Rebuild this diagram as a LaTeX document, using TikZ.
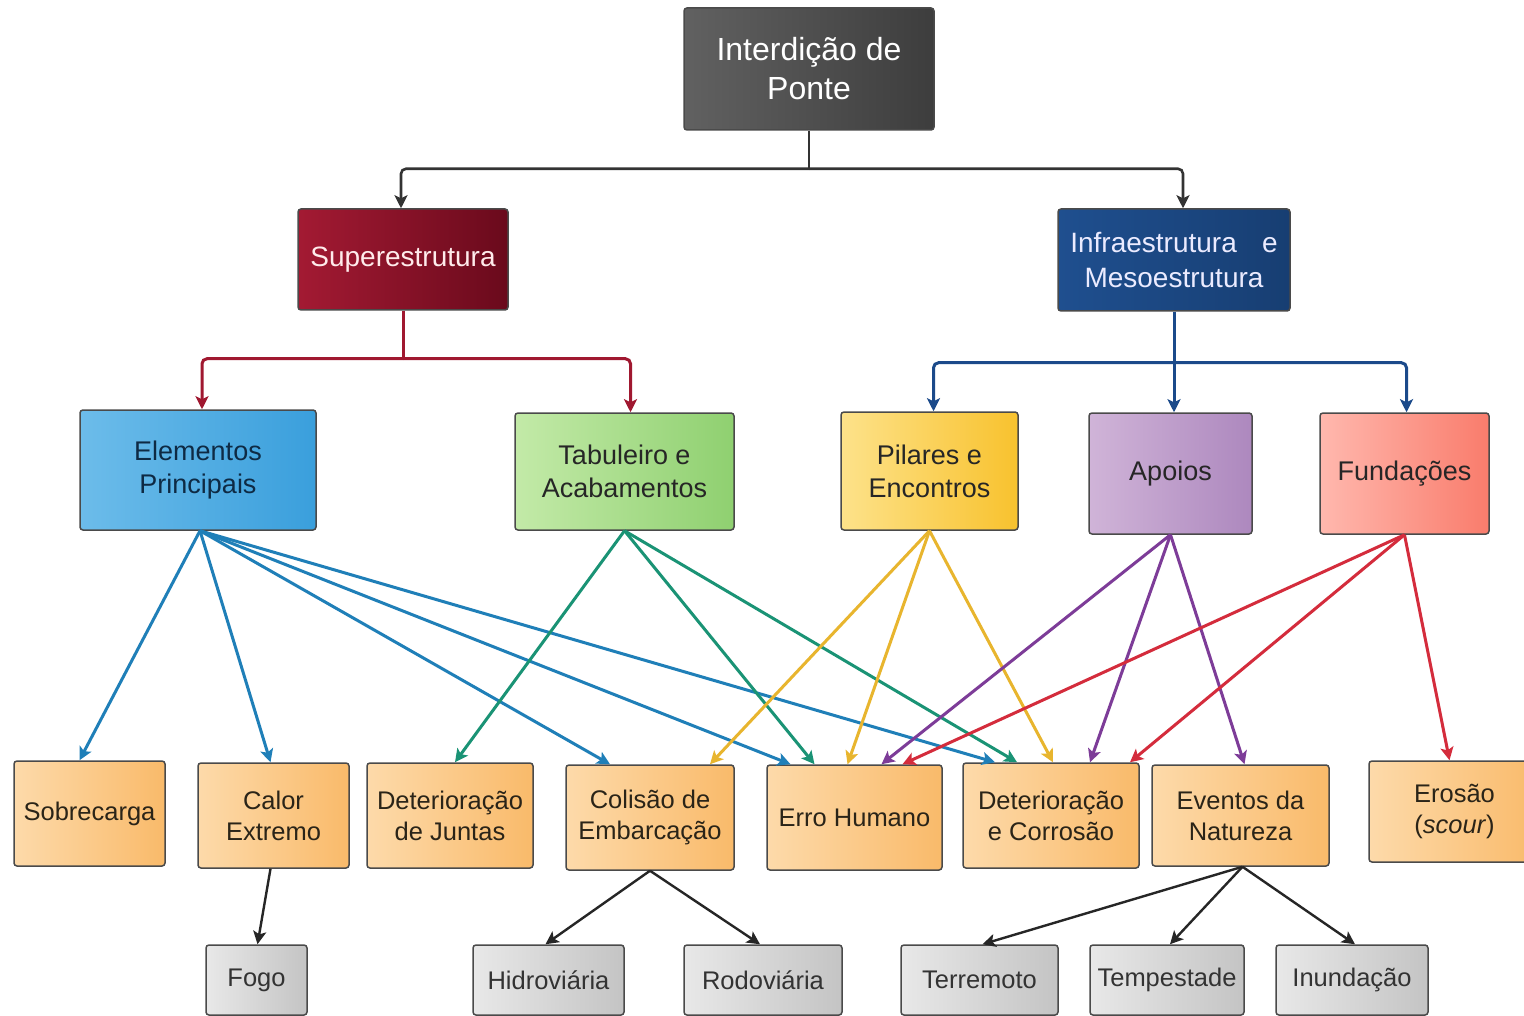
\documentclass[tikz,border=0pt]{standalone}
\usepackage{fontspec}
\setmainfont{Liberation Sans}
\usetikzlibrary{arrows.meta}

\definecolor{edgegray}{HTML}{4A4A4A}
\definecolor{cCrimson}{HTML}{A01830}
\definecolor{cNavy}{HTML}{1B4A8A}
\definecolor{cBlue}{HTML}{1F7FB8}
\definecolor{cGreen}{HTML}{1A9375}
\definecolor{cYellow}{HTML}{E8B52E}
\definecolor{cPurple}{HTML}{7D3C98}
\definecolor{cRed}{HTML}{D42C3C}
\definecolor{txtdark}{HTML}{2A2418}

% box fills (light side / dark side)
\definecolor{superL}{HTML}{A31A33}
\definecolor{superR}{HTML}{6A0A1C}
\definecolor{infraL}{HTML}{1F4F8F}
\definecolor{infraR}{HTML}{173E72}
\definecolor{elemL}{HTML}{6CBCEA}
\definecolor{elemR}{HTML}{3A9FDC}
\definecolor{elemT}{HTML}{0E2A44}
\definecolor{tabL}{HTML}{C3EAA8}
\definecolor{tabR}{HTML}{8FD070}
\definecolor{pilL}{HTML}{FDE28A}
\definecolor{pilR}{HTML}{F8C22E}
\definecolor{apoL}{HTML}{D0B4D8}
\definecolor{apoR}{HTML}{AD88BE}
\definecolor{funL}{HTML}{FFB8AE}
\definecolor{funR}{HTML}{F97C6C}
\definecolor{leafL}{HTML}{FDDAAA}
\definecolor{leafR}{HTML}{F9BA6A}
\definecolor{subL}{HTML}{E8E8E8}
\definecolor{subR}{HTML}{C4C4C4}

\tikzset{
  box/.style={draw=edgegray, line width=1.5pt, rounded corners=3pt,
              align=center, inner sep=0pt},
  rootbox/.style={box, left color=black!62, right color=black!76, text=white,
              font=\fontsize{32}{39}\selectfont},
  superbox/.style={box, left color=superL, right color=superR, text=white!92!red,
              font=\fontsize{28}{35}\selectfont},
  infrabox/.style={box, left color=infraL, right color=infraR, text=white!92!blue,
              font=\fontsize{28}{35}\selectfont},
  midbox/.style={box, text=black!85, font=\fontsize{27}{33}\selectfont},
  leafbox/.style={box, left color=leafL, right color=leafR, text=txtdark,
              font=\fontsize{25.5}{31}\selectfont, minimum height=105pt},
  subbox/.style={box, left color=subL, right color=subR, text=black!80,
              font=\fontsize{25.5}{31}\selectfont, minimum height=70pt},
  arr/.style={line width=3pt, -{Stealth[length=13pt,width=13pt,inset=3pt]}},
  elbow/.style={arr, rounded corners=5pt},
  stem/.style={line width=3pt},
  thin arr/.style={arr, black!85, line width=2.4pt},
}

\begin{document}
\begin{tikzpicture}[x=1pt,y=-1pt]
\path[use as bounding box, clip] (0,0) rectangle (1524,1016);
\fill[white] (0,0) rectangle (1524,1016);

% ---- top levels
\node[rootbox, minimum width=250pt, minimum height=122pt] (root) at (809,69) {Interdição de\\Ponte};
\node[superbox, minimum width=210pt, minimum height=101pt] (super) at (403,259.5) {Superestrutura};
\node[infrabox, minimum width=232pt, minimum height=102pt] (infra) at (1174,260) {Infraestrutura\hspace{0.9em}e\\Mesoestrutura};

% ---- components
\node[midbox, left color=elemL, right color=elemR, text=elemT,
      minimum width=236pt, minimum height=120pt] (elem) at (198,470) {Elementos\\Principais};
\node[midbox, left color=tabL, right color=tabR,
      minimum width=219pt, minimum height=117pt] (tab) at (624.5,471.5) {Tabuleiro e\\Acabamentos};
\node[midbox, left color=pilL, right color=pilR,
      minimum width=177pt, minimum height=118pt] (pil) at (929.5,471) {Pilares e\\Encontros};
\node[midbox, left color=apoL, right color=apoR,
      minimum width=163pt, minimum height=121pt] (apo) at (1170.5,473.5) {Apoios};
\node[midbox, left color=funL, right color=funR,
      minimum width=169pt, minimum height=121pt] (fun) at (1404.5,473.5) {Fundações};

% ---- causes
\node[leafbox, minimum width=151pt] (sobre) at (89.5,813.5) {Sobrecarga};
\node[leafbox, minimum width=151pt] (calor) at (273.5,815.5) {Calor\\Extremo};
\node[leafbox, minimum width=166pt] (detj) at (450,815.5) {Deterioração\\de Juntas};
\node[leafbox, minimum width=168pt] (col) at (650,817.5) {Colisão de\\Embarcação};
\node[leafbox, minimum width=175pt] (erro) at (854.5,817.5) {Erro Humano};
\node[leafbox, minimum width=176pt] (detc) at (1051,815.5) {Deterioração\\e Corrosão};
\node[leafbox, minimum width=177pt, minimum height=101pt] (even) at (1240.5,815.5) {Eventos da\\Natureza};
\node[leafbox, minimum width=171pt, minimum height=101pt] (eros) at (1454.5,811.5) {Erosão\\(\textit{scour})};

% ---- sub-causes
\node[subbox, minimum width=101pt] (fogo) at (256.5,980) {Fogo};
\node[subbox, minimum width=151pt] (hidro) at (548.5,980) {Hidroviária};
\node[subbox, minimum width=158pt] (rodo) at (763,980) {Rodoviária};
\node[subbox, minimum width=157pt] (terre) at (979.5,980) {Terremoto};
\node[subbox, minimum width=154pt] (temp) at (1167,980) {Tempestade};
\node[subbox, minimum width=152pt] (inund) at (1352,980) {Inundação};

% ---- branch points of the tree
\coordinate (rootj) at ([yshift=-38pt]root.south);
\coordinate (superj) at ([yshift=-48pt]super.south);
\coordinate (infraj) at ([yshift=-51pt]infra.south);

% ---- tree connectors
\draw[stem, black!80, line width=2.6pt] (root.south) -- (rootj);
\draw[elbow, black!80, line width=2.6pt] (rootj) -| ([xshift=-2pt]super.north);
\draw[elbow, black!80, line width=2.6pt] (rootj) -| ([xshift=9pt]infra.north);
\draw[stem, cCrimson] (super.south) -- (superj);
\draw[elbow, cCrimson] (superj) -| ([xshift=4pt]elem.north);
\draw[elbow, cCrimson] (superj) -| ([xshift=6pt]tab.north);
\draw[elbow, cNavy] (infraj) -| ([xshift=4pt]pil.north);
\draw[elbow, cNavy] (infraj) -| ([xshift=2pt]fun.north);
\draw[arr, cNavy] (infra.south) -- ([xshift=3.5pt]apo.north);

% ---- main elements
\draw[arr, cBlue] ([xshift=2pt]elem.south) -- ([xshift=-10pt]sobre.north);
\draw[arr, cBlue] ([xshift=2pt]elem.south) -- ([xshift=-3pt]calor.north);
\draw[arr, cBlue] ([xshift=2pt]elem.south) -- ([xshift=-40pt]col.north);
\draw[arr, cBlue] ([xshift=2pt]elem.south) -- ([xshift=-64pt]erro.north);
\draw[arr, cBlue] ([xshift=2pt]elem.south) -- ([xshift=-56pt]detc.north);

% ---- deck and finishes
\draw[arr, cGreen] (tab.south) -- ([xshift=5pt]detj.north);
\draw[arr, cGreen] (tab.south) -- ([xshift=-40pt]erro.north);
\draw[arr, cGreen] (tab.south) -- ([xshift=-34pt]detc.north);

% ---- piers and abutments
\draw[arr, cYellow] (pil.south) -- ([xshift=60pt]col.north);
\draw[arr, cYellow] (pil.south) -- ([xshift=-7pt]erro.north);
\draw[arr, cYellow] (pil.south) -- ([xshift=2pt]detc.north);

% ---- bearings
\draw[arr, cPurple] (apo.south) -- ([xshift=27pt]erro.north);
\draw[arr, cPurple] (apo.south) -- ([xshift=39pt]detc.north);
\draw[arr, cPurple] (apo.south) -- ([xshift=4pt]even.north);

% ---- foundations
\draw[arr, cRed] (fun.south) -- ([xshift=48pt]erro.north);
\draw[arr, cRed] (fun.south) -- ([xshift=79pt]detc.north);
\draw[arr, cRed] (fun.south) -- ([xshift=-5pt]eros.north);

% ---- sub-causes
\draw[thin arr] ([xshift=-3pt]calor.south) -- ([xshift=1pt]fogo.north);
\draw[thin arr] (col.south) -- ([xshift=-3pt]hidro.north);
\draw[thin arr] (col.south) -- ([xshift=-3pt]rodo.north);
\draw[thin arr] ([xshift=2pt]even.south) -- ([xshift=3pt]terre.north);
\draw[thin arr] ([xshift=2pt]even.south) -- ([xshift=3pt]temp.north);
\draw[thin arr] ([xshift=2pt]even.south) -- ([xshift=3pt]inund.north);
\end{tikzpicture}
\end{document}
